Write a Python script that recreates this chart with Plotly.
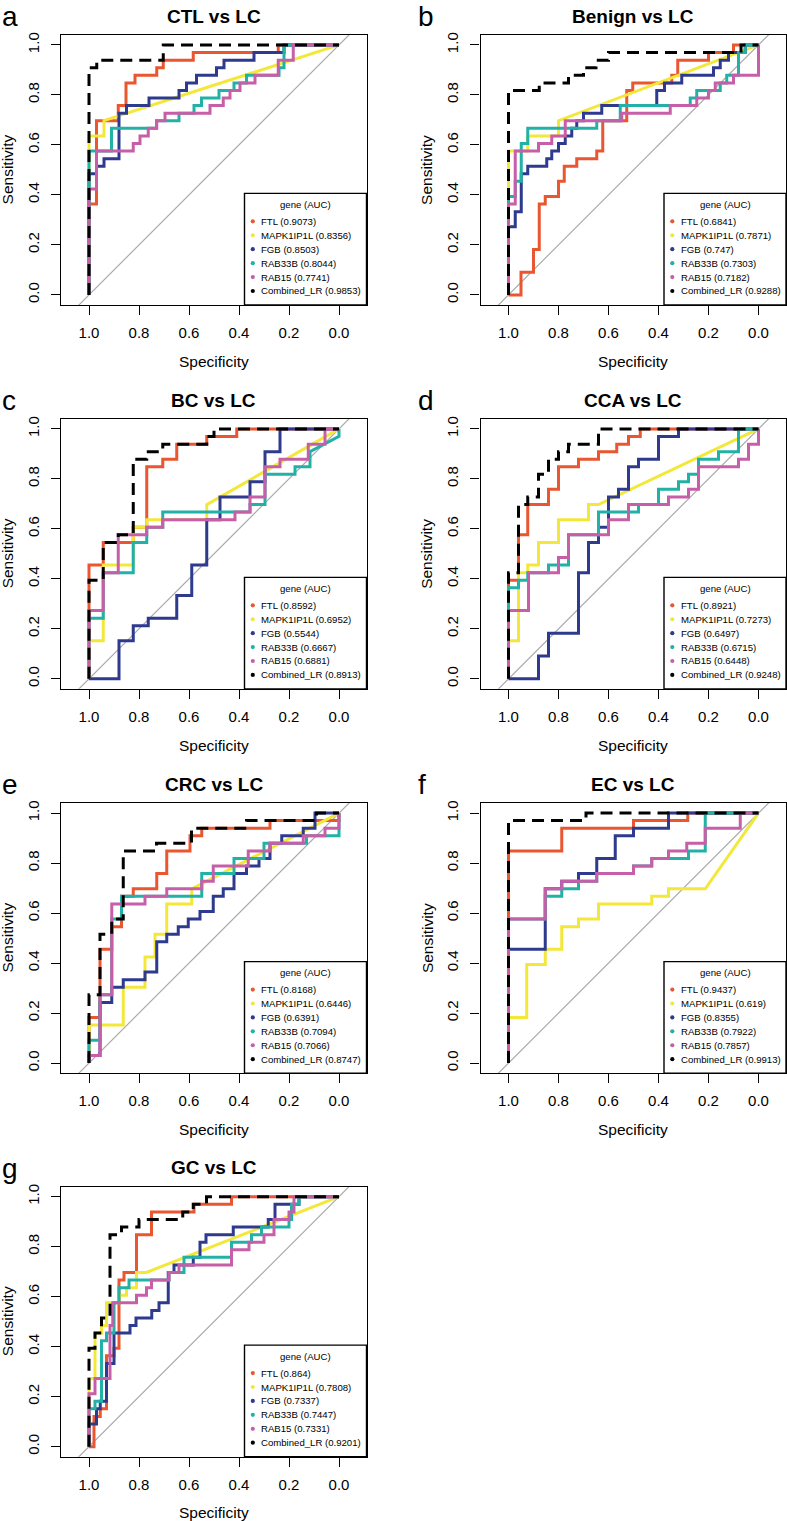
import plotly.graph_objects as go

# ---- data ---------------------------------------------------------------
genes = ["FTL", "MAPK1IP1L", "FGB", "RAB33B", "RAB15", "Combined_LR"]
gene_colors = ["#E9562F", "#F3E83A", "#2E3A8E", "#22B1A7", "#C75FA8", "#000000"]

panel_letters = ["a", "b", "c", "d", "e", "f", "g"]
panel_titles = ["CTL vs LC", "Benign vs LC", "BC vs LC", "CCA vs LC",
                "CRC vs LC", "EC vs LC", "GC vs LC"]

spec_ticks = [1.0, 0.8, 0.6, 0.4, 0.2, 0.0]
sens_ticks = [0.0, 0.2, 0.4, 0.6, 0.8, 1.0]

auc_ctl = [0.9073, 0.8356, 0.8503, 0.8044, 0.7741, 0.9853]
auc_benign = [0.6841, 0.7871, 0.747, 0.7303, 0.7182, 0.9288]
auc_bc = [0.8592, 0.6952, 0.5544, 0.6667, 0.6881, 0.8913]
auc_cca = [0.8921, 0.7273, 0.6497, 0.6715, 0.6448, 0.9248]
auc_crc = [0.8168, 0.6446, 0.6391, 0.7094, 0.7066, 0.8747]
auc_ec = [0.9437, 0.619, 0.8355, 0.7922, 0.7857, 0.9913]
auc_gc = [0.864, 0.7808, 0.7337, 0.7447, 0.7331, 0.9201]

# ROC curves as (specificity, sensitivity) vertices
roc_ctl = {
    "FTL": [(1, 0), (1, .364), (.97, .364), (.97, .697), (.883, .697), (.883, .758), (.852, .758),
            (.852, .848), (.816, .848), (.816, .879), (.729, .879), (.729, .909), (.703, .909),
            (.703, .939), (.583, .939), (.583, .97), (.243, .97), (.243, 1), (0, 1)],
    "MAPK1IP1L": [(1, 0), (1, .636), (.94, .636), (.94, .697), (0, 1)],
    "FGB": [(1, 0), (1, .485), (.97, .485), (.97, .515), (.94, .515), (.94, .545), (.88, .545),
            (.88, .727), (.85, .727), (.85, .758), (.76, .758), (.76, .788), (.64, .788), (.64, .818),
            (.61, .818), (.61, .848), (.57, .848), (.57, .879), (.49, .879), (.49, .909), (.46, .909),
            (.46, .939), (.34, .939), (.34, .97), (.22, .97), (.22, 1), (0, 1)],
    "RAB33B": [(1, 0), (1, .576), (.91, .576), (.91, .667), (.73, .667), (.73, .697), (.64, .697),
               (.64, .727), (.58, .727), (.58, .758), (.55, .758), (.55, .788), (.48, .788),
               (.48, .818), (.42, .818), (.42, .848), (.37, .848), (.37, .879), (.24, .879),
               (.24, .909), (.22, .909), (.22, 1), (0, 1)],
    "RAB15": [(1, 0), (1, .424), (.97, .424), (.97, .576), (.823, .576), (.823, .606), (.796, .606),
              (.796, .636), (.763, .636), (.763, .667), (.729, .667), (.729, .697), (.696, .697),
              (.696, .727), (.516, .727), (.516, .758), (.463, .758), (.463, .788), (.436, .788),
              (.436, .818), (.396, .818), (.396, .848), (.336, .848), (.336, .879), (.243, .879),
              (.243, .939), (.183, .939), (.183, 1), (0, 1)],
    "Combined_LR": [(1, 0), (1, .909), (.969, .909), (.969, .939), (.703, .939), (.703, 1), (0, 1)],
}

roc_benign = {
    "FTL": [(1, 0), (.95, 0), (.95, .091), (.90, .091), (.90, .182), (.877, .182), (.877, .364),
            (.853, .364), (.853, .394), (.80, .394), (.80, .455), (.777, .455), (.777, .515),
            (.727, .515), (.727, .545), (.647, .545), (.647, .576), (.623, .576), (.623, .697),
            (.527, .697), (.527, .818), (.503, .818), (.503, .848), (.347, .848), (.347, .879),
            (.323, .879), (.323, .939), (.20, .939), (.20, .97), (.10, .97), (.10, 1), (0, 1)],
    "MAPK1IP1L": [(1, 0), (1, .576), (.923, .576), (.923, .636), (.80, .636), (.80, .697), (0, 1)],
    "FGB": [(1, 0), (1, .273), (.973, .273), (.973, .333), (.949, .333), (.949, .485), (.923, .485),
            (.923, .515), (.847, .515), (.847, .545), (.827, .545), (.827, .576), (.80, .576),
            (.80, .606), (.773, .606), (.773, .636), (.747, .636), (.747, .667), (.727, .667),
            (.727, .697), (.70, .697), (.70, .727), (.627, .727), (.627, .758), (.407, .758),
            (.407, .818), (.376, .818), (.376, .848), (.307, .848), (.307, .879), (.18, .879),
            (.18, .909), (.153, .909), (.153, .939), (.12, .939), (.12, .97), (.053, .97),
            (.053, 1), (0, 1)],
    "RAB33B": [(1, 0), (1, .394), (.973, .394), (.973, .455), (.949, .455), (.949, .606),
               (.923, .606), (.923, .667), (.647, .667), (.647, .697), (.553, .697), (.553, .758),
               (.273, .758), (.273, .788), (.247, .788), (.247, .818), (.153, .818), (.153, .848),
               (.127, .848), (.127, .879), (.08, .879), (.08, .97), (.053, .97), (.053, 1), (0, 1)],
    "RAB15": [(1, 0), (1, .364), (.973, .364), (.973, .576), (.88, .576), (.88, .606), (.827, .606),
              (.827, .636), (.773, .636), (.773, .697), (.547, .697), (.547, .727), (.353, .727),
              (.353, .758), (.247, .758), (.247, .788), (.2, .788), (.2, .818), (.173, .818),
              (.173, .848), (.1, .848), (.1, .879), (0, .879), (0, 1)],
    "Combined_LR": [(1, 0), (1, .818), (.877, .818), (.877, .848), (.76, .848), (.76, .879),
                    (.70, .879), (.70, .909), (.65, .909), (.65, .939), (.60, .939), (.60, .97),
                    (.07, .97), (.07, 1), (0, 1)],
}

roc_bc = {
    "FTL": [(1, 0), (1, .455), (.943, .455), (.943, .545), (.823, .545), (.823, .606), (.769, .606),
            (.769, .848), (.705, .848), (.705, .879), (.649, .879), (.649, .939), (.529, .939),
            (.529, .97), (.409, .97), (.409, 1), (0, 1)],
    "MAPK1IP1L": [(1, 0), (1, .152), (.943, .152), (.943, .455), (.823, .455), (.823, .606),
                  (.769, .606), (.769, .636), (.529, .636), (.529, .697), (0, 1)],
    "FGB": [(1, 0), (.88, 0), (.88, .152), (.823, .152), (.823, .212), (.763, .212), (.763, .242),
            (.649, .242), (.649, .333), (.589, .333), (.589, .455), (.529, .455), (.529, .636),
            (.476, .636), (.476, .727), (.356, .727), (.356, .788), (.296, .788), (.296, .909),
            (.236, .909), (.236, 1), (0, 1)],
    "RAB33B": [(1, 0), (1, .242), (.943, .242), (.943, .424), (.823, .424), (.823, .545),
               (.769, .545), (.769, .606), (.705, .606), (.705, .667), (.356, .667), (.356, .697),
               (.296, .697), (.296, .818), (.176, .818), (.176, .848), (.116, .848), (.116, .909),
               (0, .97), (0, 1)],
    "RAB15": [(1, 0), (1, .273), (.943, .273), (.943, .424), (.883, .424), (.883, .576),
              (.769, .576), (.769, .606), (.705, .606), (.705, .636), (.416, .636), (.416, .667),
              (.356, .667), (.356, .727), (.296, .727), (.296, .848), (.236, .848), (.236, .879),
              (.123, .879), (.123, .939), (.056, .939), (.056, 1), (0, 1)],
    "Combined_LR": [(1, 0), (1, .394), (.943, .394), (.943, .545), (.883, .545), (.883, .576),
                    (.823, .576), (.823, .879), (.769, .879), (.769, .909), (.705, .909),
                    (.705, .939), (.529, .939), (.529, .97), (.50, .97), (.50, 1), (0, 1)],
}

roc_cca = {
    "FTL": [(1, 0), (1, .394), (.96, .394), (.96, .576), (.923, .576), (.923, .697), (.84, .697),
            (.84, .758), (.80, .758), (.80, .848), (.72, .848), (.72, .879), (.64, .879), (.64, .909),
            (.567, .909), (.567, .939), (.52, .939), (.52, .97), (.473, .97), (.473, 1), (0, 1)],
    "MAPK1IP1L": [(1, 0), (1, .152), (.96, .152), (.96, .424), (.923, .424), (.923, .455),
                  (.88, .455), (.88, .545), (.80, .545), (.80, .636), (.68, .636), (.68, .697),
                  (.64, .697), (0, 1)],
    "FGB": [(1, 0), (.88, 0), (.88, .091), (.84, .091), (.84, .182), (.72, .182), (.72, .424),
            (.68, .424), (.68, .545), (.64, .545), (.64, .606), (.60, .606), (.60, .727), (.56, .727),
            (.56, .758), (.52, .758), (.52, .848), (.48, .848), (.48, .879), (.40, .879), (.40, .97),
            (.32, .97), (.32, 1), (0, 1)],
    "RAB33B": [(1, 0), (1, .364), (.96, .364), (.96, .394), (.923, .394), (.923, .424), (.84, .424),
               (.84, .455), (.76, .455), (.76, .576), (.64, .576), (.64, .667), (.48, .667),
               (.48, .697), (.40, .697), (.40, .758), (.32, .758), (.32, .788), (.28, .788),
               (.28, .818), (.24, .818), (.24, .879), (.16, .879), (.16, .909), (.08, .909),
               (.08, 1), (0, 1)],
    "RAB15": [(1, 0), (1, .273), (.92, .273), (.92, .424), (.80, .424), (.80, .485), (.76, .485),
              (.76, .576), (.60, .576), (.60, .636), (.52, .636), (.52, .697), (.36, .697),
              (.36, .727), (.28, .727), (.28, .758), (.24, .758), (.24, .848), (.08, .848),
              (.08, .879), (.04, .879), (.04, .939), (0, .939), (0, 1)],
    "Combined_LR": [(1, 0), (1, .424), (.96, .424), (.96, .697), (.923, .697), (.923, .727),
                    (.88, .727), (.88, .818), (.84, .818), (.84, .879), (.80, .879), (.80, .909),
                    (.76, .909), (.76, .939), (.64, .939), (.64, 1), (0, 1)],
}

roc_crc = {
    "FTL": [(1, 0), (1, .182), (.956, .182), (.956, .455), (.909, .455), (.909, .545), (.87, .545),
            (.87, .667), (.823, .667), (.823, .697), (.729, .697), (.729, .758), (.689, .758),
            (.689, .848), (.596, .848), (.596, .909), (.549, .909), (.549, .939), (.276, .939),
            (.276, .97), (0, .97), (0, 1)],
    "MAPK1IP1L": [(1, 0), (1, .152), (.863, .152), (.863, .303), (.776, .303), (.776, .424),
                  (.736, .424), (.736, .515), (.689, .515), (.689, .636), (.589, .636),
                  (.589, .697), (0, 1)],
    "FGB": [(1, 0), (1, .03), (.956, .03), (.956, .242), (.909, .242), (.909, .303), (.863, .303),
            (.863, .333), (.776, .333), (.776, .364), (.729, .364), (.729, .485), (.689, .485),
            (.689, .515), (.643, .515), (.643, .545), (.603, .545), (.603, .576), (.556, .576),
            (.556, .606), (.503, .606), (.503, .667), (.463, .667), (.463, .697), (.42, .697),
            (.42, .758), (.37, .758), (.37, .788), (.32, .788), (.32, .818), (.276, .818),
            (.276, .879), (.229, .879), (.229, .909), (.143, .909), (.143, .939), (.096, .939),
            (.096, 1), (0, 1)],
    "RAB33B": [(1, 0), (1, .091), (.956, .091), (.956, .273), (.909, .273), (.909, .576),
               (.87, .576), (.87, .667), (.549, .667), (.549, .758), (.42, .758), (.42, .818),
               (.30, .818), (.30, .879), (.13, .879), (.13, .909), (0, .909), (0, 1)],
    "RAB15": [(1, 0), (1, .03), (.956, .03), (.956, .273), (.909, .273), (.909, .636), (.776, .636),
              (.776, .667), (.689, .667), (.689, .697), (.549, .697), (.549, .727), (.503, .727),
              (.503, .788), (.363, .788), (.363, .848), (.276, .848), (.276, .879), (.143, .879),
              (.143, .909), (.056, .909), (.056, .939), (0, .939), (0, 1)],
    "Combined_LR": [(1, 0), (1, .273), (.956, .273), (.956, .515), (.909, .515), (.909, .576),
                    (.863, .576), (.863, .848), (.73, .848), (.73, .879), (.59, .879), (.59, .939),
                    (.37, .939), (.37, .97), (.09, .97), (.09, 1), (0, 1)],
}

roc_ec = {
    "FTL": [(1, 0), (1, .848), (.787, .848), (.787, .939), (.5, .939), (.5, .97), (.283, .97),
            (.283, 1), (0, 1)],
    "MAPK1IP1L": [(1, 0), (1, .182), (.927, .182), (.927, .394), (.853, .394), (.853, .455),
                  (.787, .455), (.787, .545), (.72, .545), (.72, .576), (.64, .576), (.64, .636),
                  (.427, .636), (.427, .667), (.36, .667), (.36, .697), (.213, .697), (0, 1)],
    "FGB": [(1, 0), (1, .455), (.853, .455), (.853, .697), (.787, .697), (.787, .727), (.72, .727),
            (.72, .758), (.647, .758), (.647, .818), (.573, .818), (.573, .909), (.5, .909),
            (.5, .939), (.36, .939), (.36, 1), (0, 1)],
    "RAB33B": [(1, 0), (1, .576), (.853, .576), (.853, .667), (.787, .667), (.787, .697),
               (.72, .697), (.72, .727), (.647, .727), (.647, .758), (.5, .758), (.5, .788),
               (.427, .788), (.427, .818), (.28, .818), (.28, .848), (.213, .848), (.213, 1), (0, 1)],
    "RAB15": [(1, 0), (1, .576), (.853, .576), (.853, .697), (.787, .697), (.787, .727), (.647, .727),
              (.647, .758), (.5, .758), (.5, .788), (.427, .788), (.427, .818), (.36, .818),
              (.36, .848), (.287, .848), (.287, .879), (.213, .879), (.213, .939), (.073, .939),
              (.073, 1), (0, 1)],
    "Combined_LR": [(1, 0), (1, .97), (.69, .97), (.69, 1), (0, 1)],
}

roc_gc = {
    "FTL": [(1, 0), (.98, 0), (.98, .121), (.955, .121), (.955, .152), (.93, .152), (.93, .364),
            (.90, .364), (.90, .394), (.88, .394), (.88, .667), (.86, .667), (.86, .697), (.81, .697),
            (.81, .848), (.75, .848), (.75, .939), (.58, .939), (.58, .97), (.43, .97), (.43, 1),
            (0, 1)],
    "MAPK1IP1L": [(1, 0), (1, .273), (.976, .273), (.976, .455), (.95, .455), (.95, .485),
                  (.93, .485), (.93, .576), (.88, .576), (.88, .606), (.85, .606), (.85, .636),
                  (.81, .636), (.81, .697), (.77, .697), (0, 1)],
    "FGB": [(1, 0), (1, .091), (.97, .091), (.97, .152), (.955, .152), (.955, .182), (.93, .182),
            (.93, .333), (.90, .333), (.90, .455), (.836, .455), (.836, .485), (.812, .485),
            (.812, .515), (.749, .515), (.749, .545), (.72, .545), (.72, .576), (.683, .576),
            (.683, .697), (.66, .697), (.66, .727), (.583, .727), (.583, .758), (.556, .758),
            (.556, .818), (.532, .818), (.532, .848), (.423, .848), (.423, .879), (.283, .879),
            (.283, .909), (.256, .909), (.256, .97), (.16, .97), (.16, 1), (0, 1)],
    "RAB33B": [(1, 0), (1, .152), (.976, .152), (.976, .182), (.95, .182), (.95, .424), (.93, .424),
               (.93, .455), (.90, .455), (.90, .576), (.88, .576), (.88, .636), (.84, .636),
               (.84, .667), (.68, .667), (.68, .697), (.62, .697), (.62, .758), (.43, .758),
               (.43, .818), (.35, .818), (.35, .848), (.31, .848), (.31, .879), (.2, .879),
               (.2, .909), (.19, .909), (.19, .97), (.16, .97), (.16, 1), (0, 1)],
    "RAB15": [(1, 0), (1, .212), (.976, .212), (.976, .273), (.916, .273), (.916, .485),
              (.905, .485), (.905, .576), (.81, .576), (.81, .606), (.77, .606), (.77, .636),
              (.75, .636), (.75, .667), (.68, .667), (.68, .697), (.64, .697), (.64, .727),
              (.43, .727), (.43, .788), (.36, .788), (.36, .818), (.3, .818), (.3, .848),
              (.26, .848), (.26, .909), (.2, .909), (.2, .939), (.18, .939), (.18, 1), (0, 1)],
    "Combined_LR": [(1, 0), (1, .394), (.976, .394), (.976, .455), (.95, .455), (.95, .515),
                    (.916, .515), (.916, .848), (.87, .848), (.87, .879), (.80, .879), (.80, .909),
                    (.625, .909), (.625, .939), (.583, .939), (.583, .97), (.53, .97), (.53, 1),
                    (0, 1)],
}

panel_rocs = [roc_ctl, roc_benign, roc_bc, roc_cca, roc_crc, roc_ec, roc_gc]
panel_aucs = [auc_ctl, auc_benign, auc_bc, auc_cca, auc_crc, auc_ec, auc_gc]

# ---- page geometry (pixels) ---------------------------------------------
W, H = 787, 1521
col_left = [61, 480.5]
row_top = [32, 416.7, 801.7, 1186]
box_w, box_h = 305.5, 270.5
unit = 250.0          # pixels per 1.0 of specificity
FONT = "Liberation Sans, Arial, Helvetica, sans-serif"


def fx(x):
    return x / W


def fy(y):
    return 1 - y / H


def label(text, x, y, size, xanchor="center", yanchor="middle", angle=0):
    return dict(text=text, x=fx(x), y=fy(y), xref="paper", yref="paper",
                showarrow=False, xanchor=xanchor, yanchor=yanchor, textangle=angle,
                font=dict(family=FONT, size=size, color="black"))


fig = go.Figure()
annotations = []
shapes = []
layout_axes = {}

for i, roc in enumerate(panel_rocs):
    row, col = divmod(i, 2)
    left, top = col_left[col], row_top[row]
    right, bottom = left + box_w, top + box_h
    n = "" if i == 0 else str(i + 1)
    xref, yref = "x" + n, "y" + n

    # chance line
    fig.add_trace(go.Scatter(x=[1.3, -0.3], y=[-0.3, 1.3], mode="lines",
                             line=dict(color="#ABABAB", width=1.2),
                             xaxis=xref, yaxis=yref, hoverinfo="skip"))
    for g, c in zip(genes, gene_colors):
        spec, sens = zip(*roc[g])
        fig.add_trace(go.Scatter(
            x=list(spec), y=list(sens), mode="lines", name=g,
            line=dict(color=c, width=3,
                      dash="12px,7px" if g == "Combined_LR" else "solid"),
            xaxis=xref, yaxis=yref))

    x_lo = 1 + 28 / unit
    x_hi = 1 - (box_w - 28) / unit
    axis_common = dict(showgrid=False, zeroline=False, showline=True, mirror=True,
                       linecolor="black", linewidth=1.4, ticks="outside", ticklen=9,
                       tickwidth=1.2, tickcolor="black", tickformat=".1f",
                       tickfont=dict(family=FONT, size=15, color="black"))
    layout_axes["xaxis" + n] = dict(axis_common, domain=[fx(left), fx(right)],
                                    range=[x_lo, x_hi], tickvals=spec_ticks,
                                    anchor=yref, ticklabelstandoff=5)
    layout_axes["yaxis" + n] = dict(axis_common, domain=[fy(bottom), fy(top)],
                                    range=[-0.04, 1.04], tickvals=sens_ticks,
                                    anchor=xref, tickangle=-90, ticklabelstandoff=6)

    cx = (left + right) / 2
    annotations.append(label("<b>%s</b>" % panel_titles[i], cx, top - 18.7, 19))
    letter_x = 0 if col == 0 else 416
    annotations.append(label(panel_letters[i], letter_x, top - 1, 28,
                             xanchor="left", yanchor="bottom"))
    annotations.append(label("Specificity", cx, bottom + 56.3, 15.5))
    annotations.append(label("Sensitivity", left - 53.5, (top + bottom) / 2, 15.5, angle=-90))

    # legend box
    lw, lh = 122, 111.7
    lx0, ly0 = right - lw, bottom - lh
    shapes.append(dict(type="rect", xref="paper", yref="paper",
                       x0=fx(lx0), x1=fx(right), y0=fy(bottom), y1=fy(ly0),
                       line=dict(color="black", width=1.4), fillcolor="white"))
    annotations.append(label("gene (AUC)", lx0 + lw / 2, ly0 + 11.3, 9.6))
    for k, (g, c, a) in enumerate(zip(genes, gene_colors, panel_aucs[i])):
        ry = ly0 + 28 + k * 13.95
        shapes.append(dict(type="circle", xref="paper", yref="paper",
                           x0=fx(lx0 + 6.2), x1=fx(lx0 + 10.4), y0=fy(ry + 2.1), y1=fy(ry - 2.1),
                           line=dict(width=0), fillcolor=c))
        annotations.append(label("%s (%s)" % (g, a), lx0 + 14.5, ry, 9.6, xanchor="left"))

fig.update_layout(width=W, height=H, margin=dict(l=0, r=0, t=0, b=0),
                  paper_bgcolor="white", plot_bgcolor="white", showlegend=False,
                  font=dict(family=FONT, color="black"),
                  annotations=annotations, shapes=shapes, **layout_axes)

fig.write_html("out.html", config={"displayModeBar": False},
               post_script="document.body.style.margin='0px';")
